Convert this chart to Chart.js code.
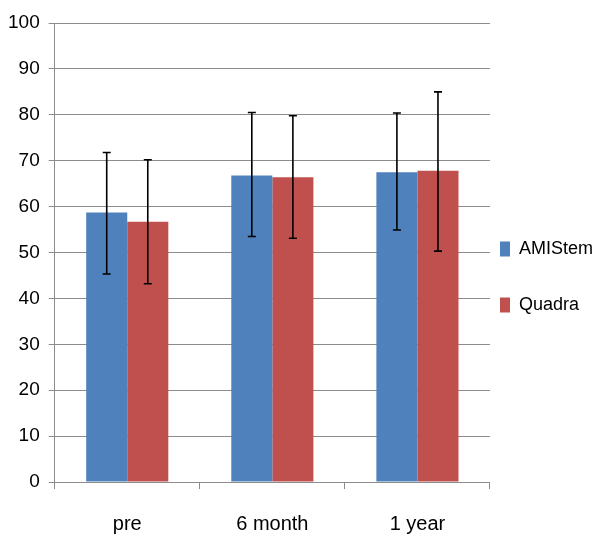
<!DOCTYPE html>
<html>
<head>
<meta charset="utf-8">
<script src="https://cdn.jsdelivr.net/npm/chart.js@4"></script>
<style>
  html, body { margin: 0; padding: 0; background: #fff; }
  #wrap { width: 603px; height: 538px; }
</style>
</head>
<body>
<div id="wrap"><canvas id="barChart"></canvas></div>
<script>
// Chart data
const categories = ['pre', '6 month', '1 year'];
const amistem = [58.7, 66.8, 67.5];
const amistemLow = [45.3, 53.5, 54.9];
const amistemHigh = [71.8, 80.5, 80.4];
const quadra = [56.7, 66.4, 67.8];
const quadraLow = [43.2, 53.1, 50.3];
const quadraHigh = [70.2, 79.8, 85.0];
const yTicks = [0, 10, 20, 30, 40, 50, 60, 70, 80, 90, 100];

const FONT = "'Liberation Sans Narrow', 'Arial Narrow', 'Liberation Sans', sans-serif";
const GRID = '#8c8c8c';

// Draw error bars using the chart's own scales
const errorBars = {
    id: 'errorBars',
    afterDatasetsDraw(chart) {
        const ctx = chart.ctx;
        const y = chart.scales.y;
        chart.data.datasets.forEach((ds, di) => {
            const meta = chart.getDatasetMeta(di);
            meta.data.forEach((bar, i) => {
                const top = y.getPixelForValue(ds.errHigh[i]);
                const bottom = y.getPixelForValue(ds.errLow[i]);
                ctx.save();
                ctx.strokeStyle = '#000';
                ctx.lineWidth = 1.6;
                ctx.beginPath();
                ctx.moveTo(bar.x, top);
                ctx.lineTo(bar.x, bottom);
                ctx.moveTo(bar.x - 4, top);
                ctx.lineTo(bar.x + 4, top);
                ctx.moveTo(bar.x - 4, bottom);
                ctx.lineTo(bar.x + 4, bottom);
                ctx.stroke();
                ctx.restore();
            });
        });
    }
};

const ctx = document.getElementById('barChart').getContext('2d');
new Chart(ctx, {
    type: 'bar',
    data: {
        labels: categories,
        datasets: [{
            label: 'AMIStem',
            data: amistem,
            errLow: amistemLow,
            errHigh: amistemHigh,
            backgroundColor: '#4F81BD',
            categoryPercentage: 0.566,
            barPercentage: 1
        }, {
            label: 'Quadra',
            data: quadra,
            errLow: quadraLow,
            errHigh: quadraHigh,
            backgroundColor: '#C0504D',
            categoryPercentage: 0.566,
            barPercentage: 1
        }]
    },
    options: {
        responsive: true,
        maintainAspectRatio: false,
        animation: false,
        layout: { padding: { top: 23, left: -1, right: 0, bottom: -21 } },
        plugins: {
            tooltip: { enabled: false },
            legend: {
                position: 'right',
                labels: {
                    boxWidth: 10,
                    boxHeight: 15,
                    padding: 10,
                    color: '#000',
                    font: { family: FONT, size: 18, lineHeight: '46px' },
                    // one-line arrays so the item height follows the font line height
                    generateLabels: chart => Chart.defaults.plugins.legend.labels.generateLabels(chart)
                        .map(item => Object.assign(item, { text: [item.text] }))
                }
            }
        },
        scales: {
            x: {
                grid: { drawOnChartArea: false, offset: true, tickLength: 7, color: GRID },
                border: { color: GRID },
                ticks: { color: '#000', padding: 23, font: { family: FONT, size: 20 } }
            },
            y: {
                min: 0,
                max: 100,
                afterBuildTicks: axis => { axis.ticks = yTicks.map(v => ({ value: v })); },
                grid: { color: GRID, tickLength: 6 },
                border: { color: GRID },
                ticks: { color: '#000', padding: 9, font: { family: FONT, size: 19 } }
            }
        }
    },
    plugins: [errorBars]
});
</script>
</body>
</html>
